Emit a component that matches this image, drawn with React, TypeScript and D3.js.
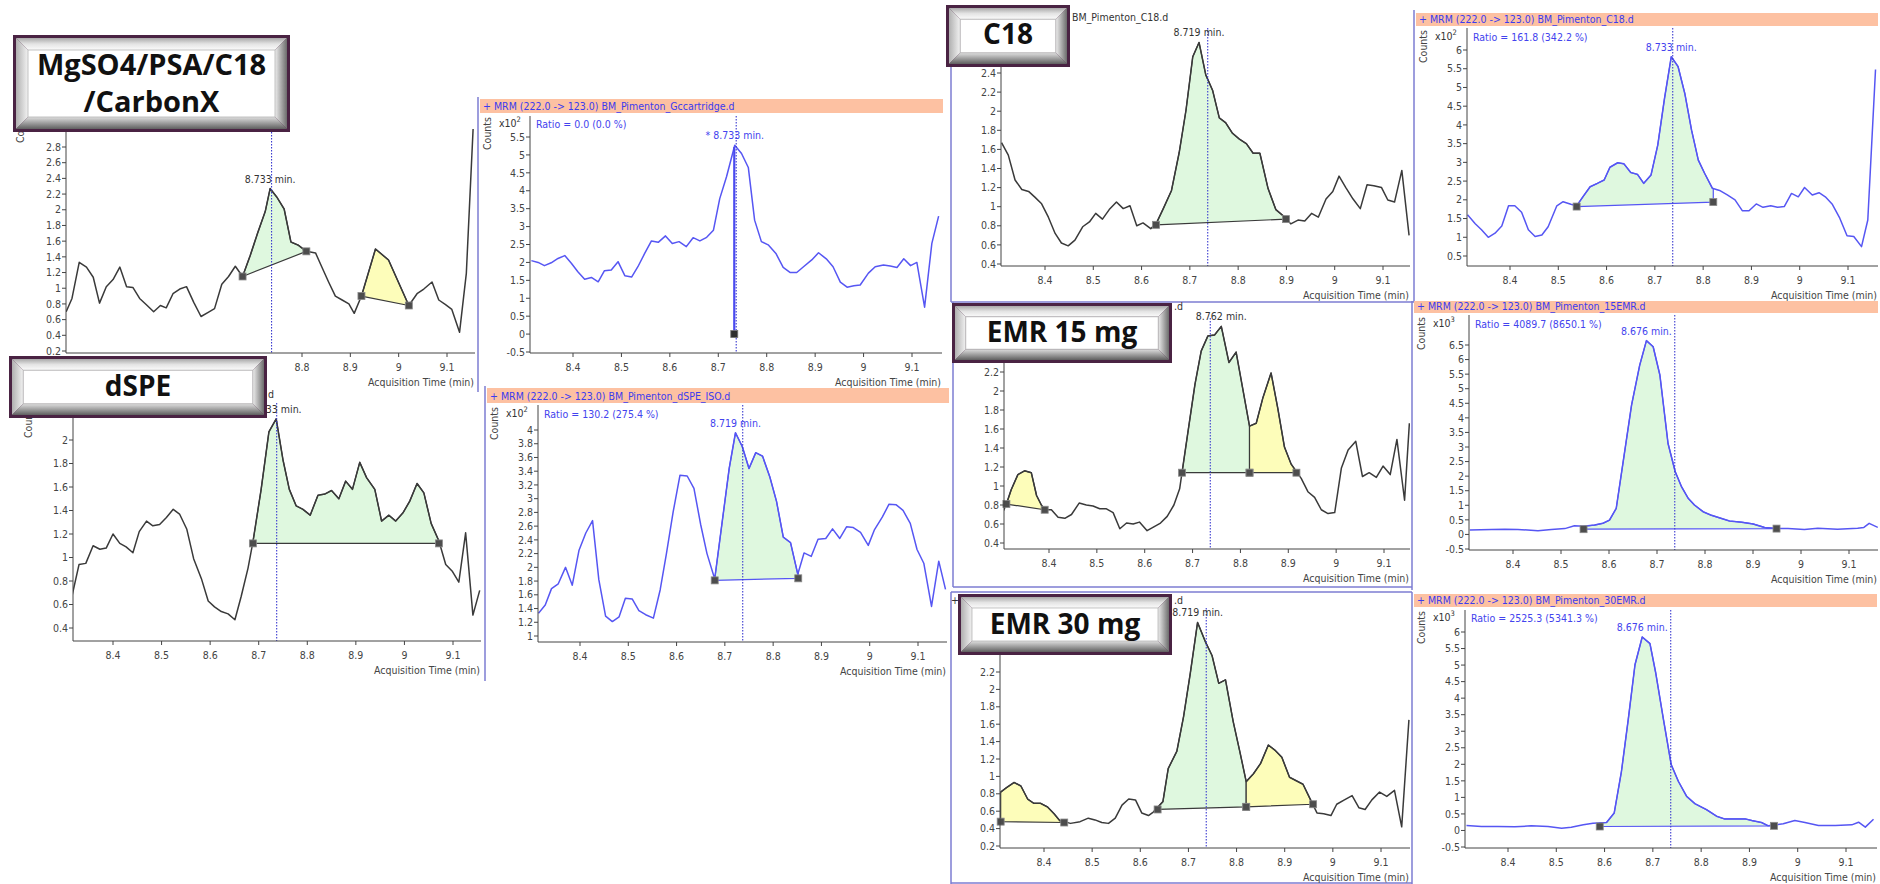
import React from 'react';
import * as d3 from 'd3';

type Pt = [number, number];
// [start, end, baseline at start, baseline at end, kind]
type Region = [number, number, number, number, 'main' | 'side'];

const xTicks = [8.4, 8.5, 8.6, 8.7, 8.8, 8.9, 9, 9.1];
const expectedRt = 8.737;

// ---- Gccartridge (MgSO4/PSA/C18/CarbonX) ----
const gcQuant: Pt[] = [[8.312,0.70],[8.324,0.87],[8.339,1.33],[8.354,1.27],[8.368,1.14],[8.381,0.81],[8.395,1.02],[8.409,1.11],[8.423,1.27],[8.437,1.02],[8.45,1.01],[8.464,0.87],[8.478,0.79],[8.493,0.70],[8.507,0.78],[8.519,0.75],[8.533,0.93],[8.547,0.99],[8.561,1.02],[8.576,0.82],[8.591,0.64],[8.605,0.69],[8.619,0.74],[8.634,1.05],[8.648,1.15],[8.662,1.28],[8.677,1.15],[8.693,1.42],[8.708,1.70],[8.724,1.98],[8.734,2.27],[8.748,2.16],[8.763,2.01],[8.777,1.59],[8.792,1.55],[8.809,1.47],[8.828,1.45],[8.841,1.27],[8.855,1.08],[8.869,0.90],[8.883,0.85],[8.897,0.80],[8.908,0.68],[8.923,0.90],[8.952,1.50],[8.979,1.36],[9.021,0.78],[9.038,0.93],[9.052,0.99],[9.069,1.08],[9.083,0.85],[9.097,0.79],[9.11,0.73],[9.126,0.44],[9.14,1.19],[9.154,3.03]];
const gcQuantRegions: Region[] = [[8.677, 8.809, 1.15, 1.47, 'main'], [8.923, 9.021, 0.90, 0.78, 'side']];
const gcQuantTicks = [0.2, 0.4, 0.6, 0.8, 1, 1.2, 1.4, 1.6, 1.8, 2, 2.2, 2.4, 2.6, 2.8];

const gcQual: Pt[] = [[8.314,2.05],[8.328,2.0],[8.341,1.91],[8.355,1.99],[8.369,2.11],[8.383,2.19],[8.397,1.97],[8.41,1.74],[8.424,1.53],[8.438,1.58],[8.452,1.46],[8.465,1.77],[8.479,1.79],[8.493,2.02],[8.507,1.63],[8.521,1.59],[8.534,1.88],[8.548,2.25],[8.562,2.6],[8.576,2.56],[8.591,2.74],[8.605,2.53],[8.619,2.58],[8.634,2.44],[8.648,2.69],[8.662,2.6],[8.676,2.7],[8.69,2.9],[8.703,3.78],[8.717,4.39],[8.734,5.27],[8.748,5.04],[8.762,4.65],[8.775,3.18],[8.789,2.58],[8.803,2.49],[8.819,2.25],[8.834,1.86],[8.848,1.72],[8.862,1.72],[8.876,1.88],[8.893,2.07],[8.907,2.27],[8.923,2.1],[8.937,1.88],[8.952,1.45],[8.966,1.31],[8.98,1.35],[8.993,1.37],[9.01,1.7],[9.024,1.88],[9.041,1.93],[9.055,1.9],[9.069,1.86],[9.083,2.1],[9.097,1.91],[9.11,2.0],[9.126,0.75],[9.141,2.53],[9.155,3.29]];
const gcQualDropTime = 8.733;
const gcQualTicks = [-0.5, 0, 0.5, 1, 1.5, 2, 2.5, 3, 3.5, 4, 4.5, 5, 5.5];

// ---- dSPE ----
const dspeQuant: Pt[] = [[8.316,0.68],[8.33,0.94],[8.344,0.95],[8.359,1.1],[8.373,1.07],[8.386,1.08],[8.4,1.2],[8.414,1.12],[8.427,1.09],[8.441,1.04],[8.454,1.22],[8.469,1.31],[8.482,1.27],[8.496,1.28],[8.51,1.34],[8.524,1.41],[8.537,1.37],[8.552,1.24],[8.566,0.99],[8.582,0.82],[8.596,0.63],[8.609,0.58],[8.623,0.54],[8.637,0.52],[8.651,0.47],[8.664,0.67],[8.678,0.91],[8.688,1.13],[8.705,1.58],[8.721,2.07],[8.736,2.18],[8.75,1.83],[8.763,1.58],[8.777,1.44],[8.791,1.41],[8.806,1.36],[8.822,1.53],[8.836,1.54],[8.85,1.57],[8.865,1.5],[8.879,1.65],[8.893,1.58],[8.908,1.81],[8.922,1.68],[8.939,1.58],[8.953,1.31],[8.968,1.36],[8.982,1.31],[8.997,1.38],[9.011,1.48],[9.026,1.63],[9.04,1.55],[9.055,1.29],[9.071,1.14],[9.085,0.94],[9.099,0.88],[9.112,0.79],[9.126,1.21],[9.141,0.51],[9.155,0.72]];
const dspeQuantRegions: Region[] = [[8.688, 9.071, 1.12, 1.12, 'main']];
const dspeQuantTicks = [0.4, 0.6, 0.8, 1, 1.2, 1.4, 1.6, 1.8, 2];

const dspeQual: Pt[] = [[8.314,1.33],[8.328,1.45],[8.341,1.69],[8.355,1.76],[8.37,2.0],[8.384,1.74],[8.398,2.25],[8.412,2.5],[8.426,2.68],[8.439,1.82],[8.453,1.29],[8.467,1.21],[8.481,1.28],[8.494,1.55],[8.508,1.54],[8.522,1.37],[8.536,1.31],[8.552,1.26],[8.566,1.67],[8.579,2.2],[8.593,2.81],[8.607,3.34],[8.622,3.33],[8.636,3.15],[8.65,2.62],[8.663,2.2],[8.679,1.83],[8.695,2.69],[8.709,3.44],[8.722,3.96],[8.736,3.76],[8.75,3.44],[8.764,3.67],[8.778,3.62],[8.793,3.32],[8.807,2.96],[8.821,2.44],[8.836,2.36],[8.851,1.9],[8.864,2.21],[8.879,2.16],[8.893,2.41],[8.909,2.42],[8.923,2.56],[8.938,2.42],[8.952,2.59],[8.966,2.58],[8.981,2.51],[8.997,2.32],[9.01,2.55],[9.026,2.73],[9.04,2.92],[9.055,2.91],[9.069,2.83],[9.084,2.64],[9.098,2.26],[9.112,2.06],[9.128,1.43],[9.143,2.09],[9.157,1.68]];
const dspeQualRegions: Region[] = [[8.679, 8.852, 1.81, 1.84, 'main']];
const dspeQualTicks = [1, 1.2, 1.4, 1.6, 1.8, 2, 2.2, 2.4, 2.6, 2.8, 3, 3.2, 3.4, 3.6, 3.8, 4];

// ---- C18 ----
const c18Quant: Pt[] = [[8.31,1.67],[8.324,1.54],[8.338,1.28],[8.352,1.18],[8.366,1.16],[8.379,1.1],[8.393,1.03],[8.407,0.89],[8.421,0.72],[8.434,0.62],[8.448,0.59],[8.462,0.65],[8.478,0.79],[8.492,0.84],[8.505,0.93],[8.519,0.87],[8.533,0.97],[8.548,1.05],[8.562,0.98],[8.576,1.01],[8.59,0.8],[8.603,0.83],[8.619,0.77],[8.63,0.82],[8.645,0.98],[8.662,1.17],[8.678,1.57],[8.692,2.01],[8.706,2.57],[8.719,2.72],[8.733,2.38],[8.747,2.22],[8.761,1.93],[8.774,1.88],[8.788,1.77],[8.802,1.71],[8.817,1.66],[8.831,1.56],[8.845,1.56],[8.862,1.19],[8.878,0.97],[8.899,0.88],[8.909,0.82],[8.924,0.86],[8.938,0.85],[8.952,0.93],[8.966,0.89],[8.982,1.08],[8.996,1.16],[9.009,1.32],[9.023,1.2],[9.038,1.08],[9.053,0.98],[9.067,1.23],[9.081,1.22],[9.097,1.2],[9.11,1.07],[9.124,1.05],[9.139,1.38],[9.154,0.7]];
const c18QuantRegions: Region[] = [[8.63, 8.899, 0.81, 0.87, 'main']];
const c18QuantTicks = [0.4, 0.6, 0.8, 1, 1.2, 1.4, 1.6, 1.8, 2, 2.2, 2.4];

const c18Qual: Pt[] = [[8.312,1.6],[8.328,1.36],[8.341,1.2],[8.355,1.0],[8.369,1.11],[8.383,1.3],[8.397,1.84],[8.41,1.84],[8.424,1.67],[8.438,1.2],[8.452,1.02],[8.466,1.06],[8.479,1.28],[8.497,1.84],[8.51,1.95],[8.526,1.88],[8.538,1.84],[8.552,2.1],[8.566,2.35],[8.581,2.44],[8.595,2.53],[8.607,2.87],[8.623,2.99],[8.636,2.96],[8.65,2.73],[8.664,2.68],[8.677,2.44],[8.692,2.66],[8.706,3.46],[8.72,4.71],[8.734,5.82],[8.748,5.56],[8.762,4.84],[8.776,3.86],[8.79,3.06],[8.803,2.71],[8.819,2.31],[8.834,2.25],[8.85,2.13],[8.866,2.0],[8.881,1.71],[8.895,1.71],[8.91,1.89],[8.924,1.8],[8.94,1.84],[8.954,1.8],[8.968,1.82],[8.983,2.17],[8.997,2.08],[9.01,2.33],[9.026,2.13],[9.04,2.19],[9.053,2.08],[9.067,1.89],[9.083,1.51],[9.098,1.04],[9.112,1.02],[9.128,0.75],[9.141,1.46],[9.157,5.48]];
const c18QualRegions: Region[] = [[8.538, 8.821, 1.82, 1.94, 'main']];
const c18QualTicks = [0.5, 1, 1.5, 2, 2.5, 3, 3.5, 4, 4.5, 5, 5.5, 6];

// ---- EMR 15 mg ----
const emr15Quant: Pt[] = [[8.305,0.74],[8.311,0.81],[8.321,0.96],[8.335,1.12],[8.349,1.16],[8.363,1.14],[8.374,0.9],[8.384,0.8],[8.391,0.75],[8.405,0.75],[8.419,0.67],[8.433,0.66],[8.447,0.7],[8.463,0.82],[8.478,0.8],[8.492,0.79],[8.506,0.76],[8.52,0.76],[8.534,0.72],[8.548,0.55],[8.562,0.61],[8.576,0.6],[8.589,0.62],[8.605,0.53],[8.619,0.57],[8.633,0.61],[8.647,0.68],[8.661,0.8],[8.673,0.97],[8.691,1.59],[8.705,2.07],[8.718,2.42],[8.732,2.58],[8.746,2.59],[8.76,2.68],[8.776,2.3],[8.791,2.41],[8.805,2.02],[8.819,1.63],[8.833,1.66],[8.847,1.93],[8.864,2.19],[8.878,1.82],[8.892,1.41],[8.906,1.23],[8.927,1.08],[8.941,0.94],[8.955,0.88],[8.969,0.75],[8.983,0.71],[8.997,0.72],[9.011,1.19],[9.025,1.38],[9.041,1.47],[9.055,1.1],[9.069,1.14],[9.084,1.09],[9.098,1.21],[9.113,1.12],[9.127,1.49],[9.143,0.85],[9.153,1.66]];
const emr15QuantRegions: Region[] = [[8.311, 8.391, 0.81, 0.75, 'side'], [8.678, 8.819, 1.14, 1.14, 'main'], [8.819, 8.917, 1.14, 1.14, 'side']];
const emr15QuantTicks = [0.4, 0.6, 0.8, 1, 1.2, 1.4, 1.6, 1.8, 2, 2.2];

const emr15Qual: Pt[] = [[8.31,0.15],[8.355,0.17],[8.383,0.18],[8.41,0.17],[8.452,0.13],[8.48,0.17],[8.508,0.2],[8.528,0.3],[8.547,0.28],[8.57,0.32],[8.587,0.38],[8.601,0.49],[8.615,0.89],[8.629,2.44],[8.647,4.44],[8.664,5.81],[8.678,6.65],[8.692,6.44],[8.706,5.47],[8.723,3.12],[8.738,2.15],[8.751,1.64],[8.765,1.24],[8.778,1.01],[8.796,0.78],[8.813,0.66],[8.83,0.57],[8.851,0.46],[8.876,0.42],[8.9,0.36],[8.924,0.24],[8.949,0.2],[8.973,0.2],[9.007,0.17],[9.035,0.21],[9.076,0.18],[9.118,0.21],[9.131,0.24],[9.142,0.38],[9.16,0.24]];
const emr15QualRegions: Region[] = [[8.547, 8.949, 0.18, 0.2, 'main']];
const emr15QualTicks = [-0.5, 0, 0.5, 1, 1.5, 2, 2.5, 3, 3.5, 4, 4.5, 5, 5.5, 6, 6.5];

// ---- EMR 30 mg ----
const emr30Quant: Pt[] = [[8.31,0.82],[8.322,0.87],[8.338,0.93],[8.352,0.89],[8.366,0.74],[8.379,0.69],[8.393,0.69],[8.407,0.65],[8.421,0.57],[8.433,0.49],[8.442,0.48],[8.455,0.46],[8.475,0.48],[8.492,0.52],[8.506,0.5],[8.52,0.47],[8.534,0.46],[8.548,0.52],[8.562,0.67],[8.576,0.74],[8.59,0.73],[8.603,0.58],[8.617,0.55],[8.627,0.59],[8.647,0.71],[8.658,1.09],[8.676,1.29],[8.69,1.69],[8.704,2.19],[8.719,2.77],[8.735,2.55],[8.749,2.39],[8.763,2.07],[8.777,2.11],[8.793,1.63],[8.807,1.28],[8.82,0.94],[8.835,1.03],[8.85,1.15],[8.866,1.36],[8.88,1.3],[8.894,1.22],[8.91,0.99],[8.924,0.95],[8.938,0.91],[8.952,0.75],[8.967,0.58],[8.981,0.57],[8.996,0.55],[9.008,0.68],[9.024,0.73],[9.04,0.78],[9.054,0.64],[9.067,0.62],[9.081,0.73],[9.097,0.82],[9.112,0.77],[9.128,0.84],[9.143,0.42],[9.158,1.65]];
const emr30QuantRegions: Region[] = [[8.31, 8.442, 0.48, 0.47, 'side'], [8.636, 8.82, 0.62, 0.65, 'main'], [8.82, 8.959, 0.65, 0.68, 'side']];
const emr30QuantTicks = [0.2, 0.4, 0.6, 0.8, 1, 1.2, 1.4, 1.6, 1.8, 2, 2.2, 2.4];

const emr30Qual: Pt[] = [[8.314,0.15],[8.345,0.12],[8.379,0.12],[8.414,0.11],[8.448,0.14],[8.483,0.12],[8.511,0.07],[8.531,0.1],[8.556,0.17],[8.576,0.22],[8.604,0.24],[8.62,0.53],[8.635,1.79],[8.649,3.35],[8.663,5.01],[8.678,5.85],[8.694,5.65],[8.706,4.76],[8.722,3.35],[8.738,1.99],[8.753,1.48],[8.77,1.03],[8.787,0.81],[8.811,0.63],[8.832,0.43],[8.848,0.35],[8.877,0.35],[8.891,0.35],[8.905,0.3],[8.925,0.24],[8.939,0.14],[8.97,0.2],[8.994,0.3],[9.015,0.24],[9.043,0.15],[9.078,0.15],[9.112,0.17],[9.126,0.25],[9.14,0.1],[9.157,0.34]];
const emr30QualRegions: Region[] = [[8.59, 8.951, 0.12, 0.14, 'main']];
const emr30QualTicks = [-0.5, 0, 0.5, 1, 1.5, 2, 2.5, 3, 3.5, 4, 4.5, 5, 5.5, 6];

const mrm = '+ MRM (222.0 -> 123.0) BM_Pimenton_';

// layout: frame left, header band, plot box, pixel anchors for the scales.
// parts = the bits of a black panel's title that show around the label box
const panels = [
  { id: 'p1', blue: false, trace: gcQuant, regions: gcQuantRegions, ticks: gcQuantTicks, file: 'Gccartridge.d', peak: '8.733 min.', parts: [],
    fl: 11, ht: 92, hb: 106, hr: 475, l: 66, r: 475, t: 120, b: 353, x84: 108.7, x91: 447, ya: [2.8, 147], yb: [0.2, 351] },
  { id: 'p2', blue: true, trace: gcQual, regions: [], ticks: gcQualTicks, file: 'Gccartridge.d', peak: '* 8.733 min.', ratio: 'Ratio = 0.0 (0.0 %)', exp: '2', drop: gcQualDropTime,
    fl: 478, ht: 99, hb: 113, hr: 943, l: 530, r: 942, t: 116, b: 353, x84: 573, x91: 912, ya: [5.5, 137], yb: [-0.5, 352] },
  { id: 'p3', blue: false, trace: dspeQuant, regions: dspeQuantRegions, ticks: dspeQuantTicks, file: 'dSPE_ISO.d', peak: '8.733 min.', parts: [['d', 268]],
    fl: 19, ht: 387, hb: 401, hr: 482, l: 73, r: 481, t: 403, b: 641, x84: 113, x91: 453, ya: [2, 440], yb: [0.4, 628] },
  { id: 'p4', blue: true, trace: dspeQual, regions: dspeQualRegions, ticks: dspeQualTicks, file: 'dSPE_ISO.d', peak: '8.719 min.', ratio: 'Ratio = 130.2 (275.4 %)', exp: '2',
    fl: 485, ht: 388, hb: 403, hr: 949, l: 538, r: 947, t: 405, b: 642, x84: 580, x91: 918, ya: [4, 430], yb: [1, 636] },
  { id: 'p5', blue: false, trace: c18Quant, regions: c18QuantRegions, ticks: c18QuantTicks, file: 'C18.d', peak: '8.719 min.', parts: [['BM_Pimenton_C18.d', 1072]],
    fl: 951, ht: 10, hb: 24, hr: 1412, l: 1001, r: 1410, t: 28, b: 266, x84: 1045, x91: 1383, ya: [2.4, 73], yb: [0.4, 264] },
  { id: 'p6', blue: true, trace: c18Qual, regions: c18QualRegions, ticks: c18QualTicks, file: 'C18.d', peak: '8.733 min.', ratio: 'Ratio = 161.8 (342.2 %)', exp: '2',
    fl: 1414, ht: 13, hb: 26, hr: 1878, l: 1467, r: 1878, t: 28, b: 266, x84: 1510, x91: 1848, ya: [6, 50], yb: [0.5, 256] },
  { id: 'p7', blue: false, trace: emr15Quant, regions: emr15QuantRegions, ticks: emr15QuantTicks, file: '15EMR.d', peak: '8.762 min.', parts: [['.d', 1174]],
    fl: 953, ht: 302, hb: 313, hr: 1410, l: 1004, r: 1410, t: 318, b: 549, x84: 1049, x91: 1384, ya: [2.2, 372], yb: [0.4, 543] },
  { id: 'p8', blue: true, trace: emr15Qual, regions: emr15QualRegions, ticks: emr15QualTicks, file: '15EMR.d', peak: '8.676 min.', ratio: 'Ratio = 4089.7 (8650.1 %)', exp: '3',
    fl: 1412, ht: 301, hb: 313, hr: 1878, l: 1469, r: 1878, t: 315, b: 550, x84: 1513, x91: 1849, ya: [6.5, 345], yb: [-0.5, 549] },
  { id: 'p9', blue: false, trace: emr30Quant, regions: emr30QuantRegions, ticks: emr30QuantTicks, file: '30EMR.d', peak: '8.719 min.', parts: [['+', 951], ['.d', 1174]],
    fl: 951, ht: 593, hb: 607, hr: 1410, l: 1000, r: 1410, t: 608, b: 848, x84: 1044, x91: 1381, ya: [2.2, 672], yb: [0.2, 846] },
  { id: 'p10', blue: true, trace: emr30Qual, regions: emr30QualRegions, ticks: emr30QualTicks, file: '30EMR.d', peak: '8.676 min.', ratio: 'Ratio = 2525.3 (5341.3 %)', exp: '3',
    fl: 1412, ht: 594, hb: 607, hr: 1877, l: 1465, r: 1877, t: 610, b: 848, x84: 1508, x91: 1846, ya: [6, 632], yb: [-0.5, 847] },
];

const boxes = [
  { x: 13, y: 35, w: 277, h: 97, size: 29, lines: [['MgSO4/PSA/C18', 75], ['/CarbonX', 112]] },
  { x: 9, y: 356, w: 258, h: 62, size: 28, lines: [['dSPE', 396]] },
  { x: 946, y: 5, w: 124, h: 62, size: 28, lines: [['C18', 44]] },
  { x: 952, y: 303, w: 220, h: 60, size: 28, lines: [['EMR 15 mg', 342]] },
  { x: 958, y: 594, w: 214, h: 61, size: 28, lines: [['EMR 30 mg', 634]] },
];

// panel borders
const frameLines = [
  [478, 97, 478, 392], [485, 386, 485, 681],
  [951, 8, 951, 302], [951, 302, 1414, 302], [1414, 10, 1414, 302],
  [953, 302, 953, 587], [953, 587, 1412, 587], [1412, 301, 1412, 590],
  [951, 592, 1412, 592], [951, 592, 951, 884], [951, 883, 1412, 883], [1412, 592, 1412, 884],
];

const smallFont = "'Liberation Sans Narrow','DejaVu Sans Condensed','Liberation Sans',Arial,sans-serif";
const fs = 10.5;
const fmt = (v: number) => String(+v.toFixed(2));

// a point under one of the label boxes is not drawn (the box hides it anyway)
const covered = (px: number, py: number) =>
  boxes.some((b) => px >= b.x && px <= b.x + b.w && py >= b.y && py <= b.y + b.h);

function interp(tr: Pt[], t: number) {
  const i = d3.bisector((d: Pt) => d[0]).right(tr, t);
  if (i <= 0) return tr[0][1];
  if (i >= tr.length) return tr[tr.length - 1][1];
  const [t0, v0] = tr[i - 1];
  const [t1, v1] = tr[i];
  return v0 + ((v1 - v0) * (t - t0)) / (t1 - t0);
}

function Panel({ p }: { p: any }) {
  const x = d3.scaleLinear().domain([8.4, 9.1]).range([p.x84, p.x91]);
  const y = d3.scaleLinear().domain([p.ya[0], p.yb[0]]).range([p.ya[1], p.yb[1]]);
  const line = d3.line<Pt>().x((d) => x(d[0])).y((d) => y(d[1]));
  const stroke = p.blue ? '#5656f3' : '#3a3a3a';
  const txt = p.blue ? '#4343ee' : '#333';
  const top = d3.greatest(p.trace.filter((d: Pt) => d[0] > 8.6 && d[0] < 8.8), (d: Pt) => d[1]) as Pt;
  const clip = 'clip-' + p.id;
  const titleParts: [string, number][] = p.parts ?? [[mrm + p.file, p.fl + 5]];

  return (
    <g>
      <defs>
        <clipPath id={clip}>
          <rect x={p.l} y={p.t - 20} width={p.r - p.l} height={p.b - p.t + 20} />
        </clipPath>
      </defs>
      {p.blue && <rect x={p.fl + 2} y={p.ht} width={p.hr - p.fl - 2} height={p.hb - p.ht} fill="#fdc1a2" />}
      {titleParts.map(([s, tx]) => (
        <text key={s + tx} x={tx} y={p.hb - 3} fontSize={fs} fill={p.blue ? '#3b3bef' : '#333'} fontFamily={smallFont}>{s}</text>
      ))}
      {!covered(p.fl + 9, p.hb + 35) && (
        <text transform={`translate(${p.fl + 13},${p.hb + 37}) rotate(-90)`} fontSize={fs} fill="#444" fontFamily={smallFont}>
          Counts
        </text>
      )}
      {p.blue && (
        <g fontFamily={smallFont} fontSize={fs}>
          <text x={p.fl + 21} y={p.hb + 14} fill="#333">
            x10<tspan dy={-5} fontSize={7.5}>{p.exp}</tspan>
          </text>
          <text x={p.l + 6} y={p.hb + 15} fill={txt}>{p.ratio}</text>
        </g>
      )}

      <g clipPath={`url(#${clip})`}>
        {p.regions.map((r: Region, i: number) => {
          const [t0, t1, b0, b1, kind] = r;
          const pts: Pt[] = [
            [t0, b0], [t0, interp(p.trace, t0)],
            ...p.trace.filter((d: Pt) => d[0] > t0 && d[0] < t1),
            [t1, interp(p.trace, t1)], [t1, b1],
          ];
          return (
            <path key={i} d={line(pts) + 'Z'} fill={kind === 'main' ? '#dff8df' : '#fdfdba'}
              stroke={stroke} strokeWidth={1.2} strokeLinejoin="round" />
          );
        })}
        <path d={line(p.trace) || ''} fill="none" stroke={stroke} strokeWidth={1.5} strokeLinejoin="round" />
        {p.drop !== undefined && (
          <line x1={x(p.drop)} x2={x(p.drop)} y1={y(interp(p.trace, p.drop))} y2={y(0)} stroke="#4a4af0" strokeWidth={2.2} />
        )}
      </g>

      <line x1={x(expectedRt)} x2={x(expectedRt)} y1={p.t} y2={p.b} stroke="#3a3ad0" strokeWidth={1.1} strokeDasharray="1.5,1.5" />

      {p.regions.flatMap((r: Region, i: number) => [
        [r[0], r[2]], [r[1], r[3]],
      ].map((m, j) => (
        <rect key={i + '-' + j} x={x(m[0]) - 3.5} y={y(m[1]) - 3.5} width={7} height={7} fill="#4d4d4d" stroke="#8a8a8a" strokeWidth={0.8} />
      )))}
      {p.drop !== undefined && (
        <rect x={x(p.drop) - 3.5} y={y(0) - 3.5} width={7} height={7} fill="#2e2e2e" stroke="#777" strokeWidth={0.8} />
      )}

      <g fontFamily={smallFont} fontSize={fs} fill="#444">
        <line x1={p.l} x2={p.l} y1={p.t} y2={p.b} stroke="#444" />
        <line x1={p.l} x2={p.r} y1={p.b} y2={p.b} stroke="#444" />
        {p.ticks.filter((v: number) => !covered(p.l - 10, y(v))).map((v: number) => (
          <g key={'y' + v}>
            <line x1={p.l - 4} x2={p.l} y1={y(v)} y2={y(v)} stroke="#444" />
            <text x={p.l - 5} y={y(v)} dy="0.35em" textAnchor="end">{fmt(v)}</text>
          </g>
        ))}
        {xTicks.filter((v) => !covered(x(v), p.b + 14)).map((v) => (
          <g key={'x' + v}>
            <line x1={x(v)} x2={x(v)} y1={p.b} y2={p.b + 4} stroke="#444" />
            <text x={x(v)} y={p.b + 18} textAnchor="middle">{fmt(v)}</text>
          </g>
        ))}
        <text x={p.r - 1} y={p.b + 33} textAnchor="end">Acquisition Time (min)</text>
        <text x={x(top[0])} y={y(top[1]) - 6} textAnchor="middle" fill={txt}>{p.peak}</text>
      </g>
    </g>
  );
}

function LabelBox({ b }: { b: any }) {
  const o = 3;
  const bw = Math.min(12, b.h * 0.18);
  const ix = b.x + o, iy = b.y + o, iw = b.w - 2 * o, ih = b.h - 2 * o;
  const poly = (pts: number[][]) => pts.map((q) => q.join(',')).join(' ');
  return (
    <g>
      <rect x={b.x} y={b.y} width={b.w} height={b.h} fill="#4a2343" />
      <polygon points={poly([[ix, iy], [ix + iw, iy], [ix + iw - bw, iy + bw], [ix + bw, iy + bw]])} fill="url(#bvTop)" />
      <polygon points={poly([[ix, iy], [ix + bw, iy + bw], [ix + bw, iy + ih - bw], [ix, iy + ih]])} fill="url(#bvLeft)" />
      <polygon points={poly([[ix + iw, iy], [ix + iw, iy + ih], [ix + iw - bw, iy + ih - bw], [ix + iw - bw, iy + bw]])} fill="url(#bvRight)" />
      <polygon points={poly([[ix, iy + ih], [ix + bw, iy + ih - bw], [ix + iw - bw, iy + ih - bw], [ix + iw, iy + ih]])} fill="url(#bvBottom)" />
      <rect x={ix + bw} y={iy + bw} width={iw - 2 * bw} height={ih - 2 * bw} fill="#fff" stroke="#b5b5b5" strokeWidth={0.8} />
      {b.lines.map((ln: any) => (
        <text key={ln[0]} x={b.x + b.w / 2} y={ln[1]} textAnchor="middle" fontSize={b.size} fontWeight={700}
          fontFamily="'Open Sans','Noto Sans',sans-serif" fill="#111">
          {ln[0]}
        </text>
      ))}
    </g>
  );
}

export default function App() {
  return (
    <svg width={1880} height={884} viewBox="0 0 1880 884"
      style={{ position: 'absolute', left: 0, top: 0, background: '#fff' }}>
      <defs>
        <linearGradient id="bvTop" x1="0" y1="0" x2="0" y2="1">
          <stop offset="0" stopColor="#a9a9a9" />
          <stop offset="0.5" stopColor="#e4e4e4" />
          <stop offset="1" stopColor="#fbfbfb" />
        </linearGradient>
        <linearGradient id="bvLeft" x1="0" y1="0" x2="1" y2="0">
          <stop offset="0" stopColor="#b0b0b0" />
          <stop offset="1" stopColor="#f2f2f2" />
        </linearGradient>
        <linearGradient id="bvRight" x1="0" y1="0" x2="1" y2="0">
          <stop offset="0" stopColor="#ededed" />
          <stop offset="1" stopColor="#6c6c6c" />
        </linearGradient>
        <linearGradient id="bvBottom" x1="0" y1="0" x2="0" y2="1">
          <stop offset="0" stopColor="#dedede" />
          <stop offset="1" stopColor="#5f5f5f" />
        </linearGradient>
      </defs>
      <rect width={1880} height={884} fill="#fff" />
      {frameLines.map((f, i) => (
        <line key={i} x1={f[0]} y1={f[1]} x2={f[2]} y2={f[3]} stroke="#7d7dd2" strokeWidth={1.5} />
      ))}
      {panels.map((p) => <Panel key={p.id} p={p} />)}
      {boxes.map((b, i) => <LabelBox key={i} b={b} />)}
    </svg>
  );
}
